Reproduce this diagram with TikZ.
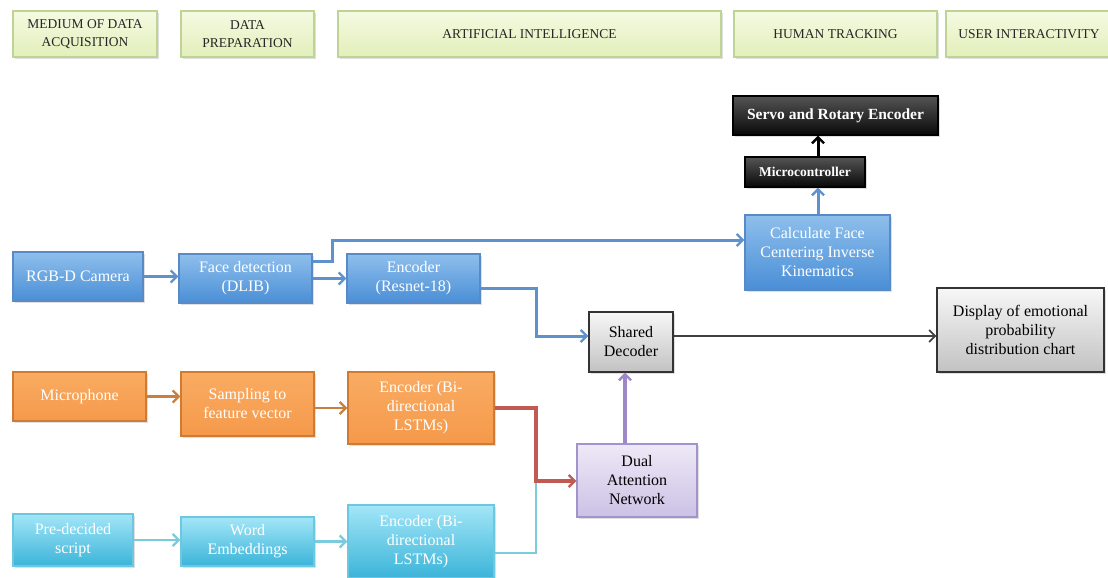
\documentclass[tikz,border=0pt]{standalone}
\usepackage{fontspec}
\setmainfont{Liberation Serif}
\usetikzlibrary{arrows.meta,shadows}
\definecolor{hdrTop}{HTML}{F5FAE2}
\definecolor{hdrBot}{HTML}{E2EFBA}
\definecolor{hdrBorder}{HTML}{BFD396}
\definecolor{blueTop}{HTML}{8EBFEC}
\definecolor{blueBot}{HTML}{4A8ED6}
\definecolor{blueBorder}{HTML}{5A8AC6}
\definecolor{orTop}{HTML}{F9AC62}
\definecolor{orBot}{HTML}{F5994B}
\definecolor{orBorder}{HTML}{D07A34}
\definecolor{cyTop}{HTML}{A3E6F7}
\definecolor{cyBot}{HTML}{3BB4D9}
\definecolor{cyBorder}{HTML}{6CC8E0}
\definecolor{bkTop}{HTML}{555555}
\definecolor{bkBot}{HTML}{080808}
\definecolor{grTop}{HTML}{F7F7F7}
\definecolor{grBot}{HTML}{C2C2C2}
\definecolor{puTop}{HTML}{EEE9F7}
\definecolor{puBot}{HTML}{CCC1E5}
\definecolor{puBorder}{HTML}{A393CD}
\definecolor{arBlue}{HTML}{5E92CC}
\definecolor{arOrange}{HTML}{C97F3E}
\definecolor{arCyan}{HTML}{7ACBDD}
\definecolor{arRed}{HTML}{C25A54}
\definecolor{arPurple}{HTML}{9D87C6}
\tikzset{
  box/.style={rectangle, align=center, inner sep=2pt, line width=1.2pt,
    font=\fontsize{16}{19}\selectfont,
    drop shadow={opacity=0.25, shadow xshift=1.5pt, shadow yshift=-2pt}},
  hdr/.style={box, draw=hdrBorder, top color=hdrTop, bottom color=hdrBot,
    text=black!85, font=\fontsize{13.5}{17.5}\selectfont, minimum height=46pt},
  bluebox/.style={box, draw=blueBorder, top color=blueTop, bottom color=blueBot, text=white},
  orbox/.style={box, draw=orBorder, top color=orTop, bottom color=orBot, text=white},
  cybox/.style={box, draw=cyBorder, top color=cyTop, bottom color=cyBot, text=white},
  bkbox/.style={box, draw=black, top color=bkTop, bottom color=bkBot, text=white},
  grbox/.style={box, draw=black!80, top color=grTop, bottom color=grBot, text=black},
  pubox/.style={box, draw=puBorder, top color=puTop, bottom color=puBot, text=black},
  conn/.style={line width=3pt, -{Straight Barb[length=6pt,width=12pt,line width=2.4pt]}},
  plain/.style={line width=3pt}
}
\begin{document}
\begin{tikzpicture}[x=1pt,y=-1pt]
\useasboundingbox (0,0) rectangle (1108,578);
\clip (0,0) rectangle (1108,578);
% headers
\node[hdr, minimum width=144pt] (h1) at (85,34) {MEDIUM OF DATA\\ACQUISITION};
\node[hdr, minimum width=133pt] (h2) at (247.5,34) {DATA\\PREPARATION};
\node[hdr, minimum width=383pt] (h3) at (529.5,34) {ARTIFICIAL INTELLIGENCE};
\node[hdr, minimum width=203pt] (h4) at (835.5,34) {HUMAN TRACKING};
\node[hdr, minimum width=166pt] (h5) at (1029,34) {USER INTERACTIVITY};
% human tracking column
\node[bkbox, minimum width=205pt, minimum height=39pt, font=\fontsize{15.5}{19}\selectfont\bfseries] (servo) at (835.5,115.5) {Servo and Rotary Encoder};
\node[bkbox, minimum width=120pt, minimum height=30pt, font=\fontsize{13.5}{17}\selectfont\bfseries] (micro) at (805,172) {Microcontroller};
\node[bluebox, minimum width=145pt, minimum height=75pt] (calc) at (817.5,252.5) {Calculate Face\\Centering Inverse\\Kinematics};
% video row
\node[bluebox, minimum width=130pt, minimum height=49pt] (rgb) at (78,276.5) {RGB-D Camera};
\node[bluebox, minimum width=133pt, minimum height=49pt] (face) at (245.5,278.5) {Face detection\\(DLIB)};
\node[bluebox, minimum width=133pt, minimum height=49pt] (enc) at (413.5,278.5) {Encoder\\(Resnet-18)};
% decoder and display
\node[grbox, minimum width=84pt, minimum height=60pt] (shared) at (631,342) {Shared\\Decoder};
\node[grbox, minimum width=167pt, minimum height=84pt] (display) at (1020.5,330) {Display of emotional\\probability\\distribution chart};
% audio row
\node[orbox, minimum width=133pt, minimum height=49pt] (mic) at (79.5,396.5) {Microphone};
\node[orbox, minimum width=133pt, minimum height=64pt] (samp) at (247.5,404) {Sampling to\\feature vector};
\node[orbox, minimum width=146pt, minimum height=72pt] (enco) at (421,408) {Encoder (Bi-\\directional\\LSTMs)};
% attention
\node[pubox, minimum width=120pt, minimum height=73pt] (dual) at (637,480.5) {Dual\\Attention\\Network};
% text row
\node[cybox, minimum width=120pt, minimum height=52pt] (pre) at (73,540) {Pre-decided\\script};
\node[cybox, minimum width=133pt, minimum height=49pt] (word) at (247.5,541.5) {Word\\Embeddings};
\node[cybox, minimum width=146pt, minimum height=73pt] (encc) at (421,541.5) {Encoder (Bi-\\directional\\LSTMs)};
% junction coordinates
\coordinate (j1) at (332,240);
\coordinate (j2) at (536,336);
\coordinate (j4) at (536,481);
\coordinate (ax) at (818,0);
\coordinate (apu) at (625,0);
% connectors
\draw[conn, arBlue] (rgb.east) -- (face.west |- rgb.east);
\draw[conn, arBlue] (face.east) -- (enc.west);
\draw[conn, arBlue] ([yshift=17.5pt]face.east) -| (j1) -- (calc.west |- j1);
\draw[conn, arBlue] ([yshift=-9.5pt]enc.east) -| (j2) -- (shared.west |- j2);
\draw[conn, arBlue] (calc.north -| ax) -- (micro.south -| ax);
\draw[conn, black] (micro.north -| ax) -- (servo.south -| ax);
\draw[line width=1.8pt, black!75, -{Straight Barb[length=6pt,width=12pt,line width=1.8pt]}] ([yshift=6pt]shared.east) -- ([yshift=-6pt]display.west);
\draw[conn, arOrange, line width=2.8pt] (mic.east) -- (samp.west |- mic.east);
\draw[conn, arOrange, line width=2.8pt] (samp.east |- enco.west) -- (enco.west);
\draw[conn, arCyan, line width=2.8pt] (pre.east) -- (word.west |- pre.east);
\draw[conn, arCyan, line width=2.8pt] (word.east) -- (encc.west |- word.east);
\draw[plain, arCyan, line width=2.8pt] ([yshift=-11.5pt]encc.east) -| (j4);
\draw[conn, arRed, line width=3.4pt] (enco.east) -| (j4) -- (dual.west |- j4);
\draw[conn, arPurple, line width=4.5pt] (dual.north -| apu) -- (shared.south -| apu);
\end{tikzpicture}
\end{document}
